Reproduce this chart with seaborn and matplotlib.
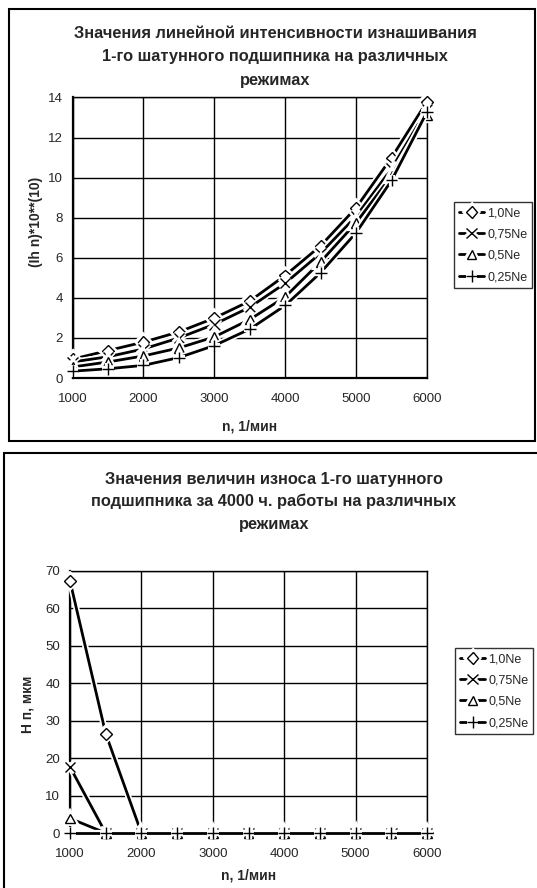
import matplotlib
matplotlib.use("Agg")
import matplotlib.pyplot as plt
import matplotlib.patheffects as pe
from matplotlib.patches import Rectangle
import pandas as pd
import seaborn as sns

# данные
n_rpm = [1000, 1500, 2000, 2500, 3000, 3500, 4000, 4500, 5000, 5500, 6000]
modes = ["1,0Ne", "0,75Ne", "0,5Ne", "0,25Ne"]

# линейная интенсивность изнашивания (Ih n)*10**(10)
ih_100 = [0.94, 1.37, 1.79, 2.30, 2.99, 3.84, 5.12, 6.60, 8.50, 11.0, 13.8]
ih_75 = [0.80, 1.06, 1.45, 2.00, 2.68, 3.53, 4.73, 6.23, 8.07, 10.45, 13.4]
ih_50 = [0.55, 0.80, 1.10, 1.50, 2.05, 2.92, 4.05, 5.80, 7.75, 10.1, 13.1]
ih_25 = [0.34, 0.46, 0.63, 1.02, 1.62, 2.44, 3.62, 5.26, 7.25, 9.86, 13.28]

# износ H n, мкм за 4000 ч
h_100 = [67.2, 26.5, 0, 0, 0, 0, 0, 0, 0, 0, 0]
h_75 = [17.6, 0, 0, 0, 0, 0, 0, 0, 0, 0, 0]
h_50 = [3.9, 0, 0, 0, 0, 0, 0, 0, 0, 0, 0]
h_25 = [0, 0, 0, 0, 0, 0, 0, 0, 0, 0, 0]

top_title = ["Значения линейной интенсивности изнашивания",
             "1-го шатунного подшипника на различных",
             "режимах"]
bottom_title = ["Значения величин износа 1-го шатунного",
                "подшипника за 4000 ч. работы на различных",
                "режимах"]

sns.set_theme(style="white")
plt.rcParams["font.family"] = ["Liberation Sans", "DejaVu Sans"]

W, H = 537, 888
fig = plt.figure(figsize=(W / 100, H / 100), dpi=100)
fig.patch.set_facecolor("white")


def px_axes(left, top, right, bottom):
    return fig.add_axes([left / W, 1 - bottom / H, (right - left) / W, (bottom - top) / H])


markers = ["D", "x", "^", "+"]
msizes = [6, 7.5, 7, 8.5]
halo = [pe.Stroke(linewidth=4.5, foreground="white"), pe.Normal()]


def draw(ax, series, ymax, ystep):
    for vals, name, mk, ms in zip(series, modes, markers, msizes):
        df = pd.DataFrame({"n": n_rpm, "val": vals})
        sns.lineplot(data=df, x="n", y="val", ax=ax, color="black",
                     marker=mk, markersize=ms, linewidth=2,
                     markerfacecolor="white", markeredgecolor="black",
                     markeredgewidth=1.0, clip_on=False, label=name)
    for line in ax.lines:
        line.set_path_effects(halo)
        line.set_zorder(5)
    ax.set_xlim(1000, 6000)
    ax.set_ylim(0, ymax)
    ax.set_xticks(range(1000, 6001, 1000))
    ax.set_yticks(range(0, ymax + 1, ystep))
    ax.grid(True, color="black", linewidth=1.0)
    ax.set_axisbelow(True)
    for s in ["top", "right"]:
        ax.spines[s].set_color("black")
        ax.spines[s].set_linewidth(1.0)
    for s in ["left", "bottom"]:
        ax.spines[s].set_color("black")
        ax.spines[s].set_linewidth(1.6)
    ax.tick_params(axis="y", direction="out", length=4, width=1, labelsize=9.5, pad=3)
    ax.tick_params(axis="x", direction="inout", length=8, width=1, labelsize=9.5, pad=7)
    ax.set_xlabel("")
    ax.set_ylabel("")
    ax.legend(handles=ax.lines[:4], labels=modes, loc="upper left",
              frameon=True, fancybox=False, edgecolor="black", fontsize=9,
              handlelength=2.0, handletextpad=0.25, borderpad=0.4,
              labelspacing=0.75, borderaxespad=0)


# верхний график
ax1 = px_axes(72.5, 97.5, 427, 378)
draw(ax1, [ih_100, ih_75, ih_50, ih_25], 14, 2)
ax1.get_legend().set_bbox_to_anchor((454 / W, 1 - 202 / H), transform=fig.transFigure)
for i, t in enumerate(top_title):
    fig.text(275 / W, 1 - (34 + 23 * i) / H, t, ha="center", va="center",
             fontsize=11.8, fontweight="bold")
fig.text(36 / W, 1 - 222 / H, "(Ih n)*10**(10)", rotation=90, ha="center",
         va="center", fontsize=10, fontweight="bold")
fig.text(250 / W, 1 - 426 / H, "n, 1/мин", ha="center", va="center",
         fontsize=10, fontweight="bold")

# нижний график
ax2 = px_axes(70, 570.5, 427, 833)
draw(ax2, [h_100, h_75, h_50, h_25], 70, 10)
ax2.get_legend().set_bbox_to_anchor((455 / W, 1 - 648 / H), transform=fig.transFigure)
for i, t in enumerate(bottom_title):
    fig.text(274 / W, 1 - (479 + 22.5 * i) / H, t, ha="center", va="center",
             fontsize=11.8, fontweight="bold")
fig.text(27 / W, 1 - 704 / H, "Н п, мкм", rotation=90, ha="center",
         va="center", fontsize=10, fontweight="bold")
fig.text(249 / W, 1 - 875 / H, "n, 1/мин", ha="center", va="center",
         fontsize=10, fontweight="bold")

# рамки областей диаграмм
fig.add_artist(Rectangle((8.7 / W, 1 - 441 / H), (535 - 8.7) / W, (441 - 9) / H,
                         transform=fig.transFigure, fill=False, ec="black", lw=1.5))
fig.add_artist(Rectangle((3.5 / W, 1 - 900 / H), (560 - 3.5) / W, (900 - 453) / H,
                         transform=fig.transFigure, fill=False, ec="black", lw=1.5,
                         clip_on=False))

fig.savefig("out.png", dpi=100, facecolor="white")
